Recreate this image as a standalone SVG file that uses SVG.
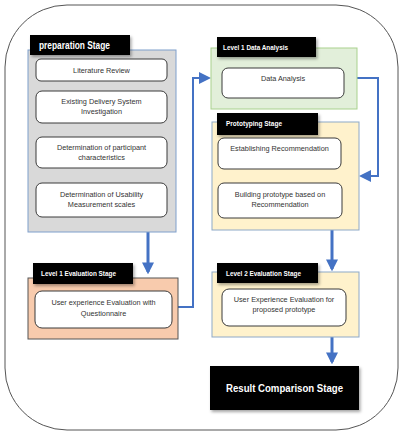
<svg xmlns="http://www.w3.org/2000/svg" width="400" height="434" viewBox="0 0 400 434">
<defs>
<marker id="ah" markerWidth="4" markerHeight="4" refX="3.2" refY="2" orient="auto" markerUnits="strokeWidth"><path d="M0,0 L4,2 L0,4 Z" fill="#4472c4"/></marker>
<marker id="ahs" markerWidth="6" markerHeight="6" refX="5" refY="3" orient="auto" markerUnits="strokeWidth"><path d="M0,0 L6,3 L0,6 Z" fill="#4472c4"/></marker>
<filter id="sh" x="-10%" y="-20%" width="130%" height="160%"><feDropShadow dx="1.5" dy="2" stdDeviation="1.5" flood-color="#000" flood-opacity="0.35"/></filter>
</defs>
<style>
.item{fill:#fff;stroke:#3a3a3a;stroke-width:1}
.t{font-family:"Liberation Sans",Arial,sans-serif;font-size:7.3px;fill:#333;text-anchor:middle}
.hd{fill:#000;filter:url(#sh)}
.ht{font-family:"Liberation Sans",Arial,sans-serif;font-size:7.3px;font-weight:bold;fill:#fff}
.c{fill:none;stroke:#4472c4;stroke-width:2}
.cb{fill:none;stroke:#4472c4;stroke-width:3}
</style>
<rect x="0" y="0" width="400" height="434" fill="#fff"/>
<rect x="5" y="5" width="393" height="425" rx="62" ry="62" fill="#fff" stroke="#555" stroke-width="1"/>

<g id="connectors">
<path class="cb" d="M148,232 V272" marker-end="url(#ah)"/>
<path class="c" d="M178,307 H193 V78 H209" marker-end="url(#ahs)"/>
<path class="c" d="M357,78 H378 V176 H361" marker-end="url(#ahs)"/>
<path class="cb" d="M332,230 V269" marker-end="url(#ah)"/>
<path class="cb" d="M332,337 V362" marker-end="url(#ah)"/>
</g>

<g id="preparation">
<rect x="28" y="50" width="148" height="182" fill="#d9d9d9" stroke="#7f9fcc" stroke-width="1"/>
<rect class="hd" x="30" y="35" width="100" height="20"/>
<text x="39" y="49" font-family="'Liberation Sans',Arial,sans-serif" font-size="10" font-weight="bold" fill="#fff" textLength="71" lengthAdjust="spacingAndGlyphs">preparation Stage</text>
<rect class="item" x="36" y="59" width="131" height="22" rx="5"/>
<text class="t" x="101.5" y="72.5">Literature Review</text>
<rect class="item" x="36" y="91" width="131" height="32" rx="6"/>
<text class="t" x="101.5" y="104">Existing Delivery System</text>
<text class="t" x="101.5" y="114">Investigation</text>
<rect class="item" x="36" y="137" width="131" height="31" rx="6"/>
<text class="t" x="101.5" y="150">Determination of participant</text>
<text class="t" x="101.5" y="160">characteristics</text>
<rect class="item" x="36" y="183" width="131" height="34" rx="6"/>
<text class="t" x="101.5" y="197">Determination of Usability</text>
<text class="t" x="101.5" y="207">Measurement scales</text>
</g>

<g id="level1-eval">
<rect x="28" y="278" width="150" height="61" fill="#f8cbad" stroke="#555" stroke-width="1"/>
<rect class="hd" x="33" y="263" width="100" height="21"/>
<text class="ht" x="41" y="276" textLength="75" lengthAdjust="spacingAndGlyphs">Level 1 Evaluation Stage</text>
<rect class="item" x="35" y="291" width="137" height="37" rx="7"/>
<text class="t" x="103.5" y="305" font-size="8">User experience Evaluation with</text>
<text class="t" x="103.5" y="316" font-size="8">Questionnaire</text>
</g>

<g id="level1-data">
<rect x="211" y="48" width="146" height="61" fill="#e2efda" stroke="#a9d18e" stroke-width="1"/>
<rect class="hd" x="217" y="37" width="99" height="20"/>
<text class="ht" x="223" y="49.5" textLength="65" lengthAdjust="spacingAndGlyphs">Level 1 Data Analysis</text>
<rect class="item" x="222" y="68" width="122" height="30" rx="6"/>
<text class="t" x="283" y="81">Data Analysis</text>
</g>

<g id="prototyping">
<rect x="212" y="122" width="147" height="108" fill="#fff2cc" stroke="#8ea9c8" stroke-width="1"/>
<rect class="hd" x="217" y="113" width="101" height="22"/>
<text class="ht" x="226" y="126" textLength="56" lengthAdjust="spacingAndGlyphs">Prototyping Stage</text>
<rect class="item" x="218" y="138" width="123" height="31" rx="6"/>
<text class="t" x="279.5" y="151">Establishing Recommendation</text>
<rect class="item" x="218" y="183" width="124" height="35" rx="6"/>
<text class="t" x="280" y="197">Building prototype  based on</text>
<text class="t" x="280" y="207">Recommendation</text>
</g>

<g id="level2-eval">
<rect x="212" y="272" width="147" height="65" fill="#fff2cc" stroke="#8ea9c8" stroke-width="1"/>
<rect class="hd" x="217" y="263" width="101" height="20"/>
<text class="ht" x="226" y="275.5" textLength="75" lengthAdjust="spacingAndGlyphs">Level 2 Evaluation Stage</text>
<rect class="item" x="222" y="289" width="124" height="37" rx="7"/>
<text class="t" x="284" y="302">User Experience Evaluation for</text>
<text class="t" x="284" y="312">proposed prototype</text>
</g>

<g id="result">
<rect x="210" y="366" width="149" height="44" fill="#000" filter="url(#sh)"/>
<text x="284.5" y="392" font-family="'Liberation Sans',Arial,sans-serif" font-size="11.5" font-weight="bold" fill="#fff" text-anchor="middle" textLength="117" lengthAdjust="spacingAndGlyphs">Result Comparison Stage</text>
</g>
</svg>
